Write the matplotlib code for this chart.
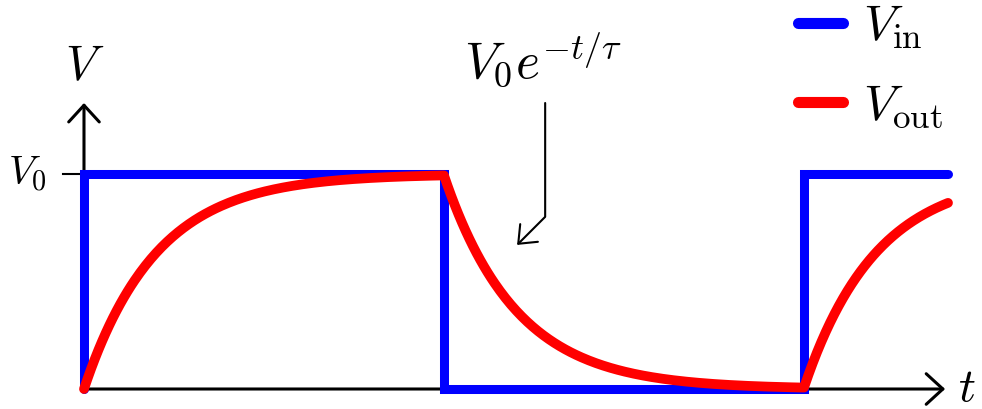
import numpy as np
import matplotlib
matplotlib.use('Agg')
from matplotlib import pyplot as plt
from matplotlib.patches import FancyArrowPatch

plt.rcParams['mathtext.fontset'] = 'cm'
plt.rcParams['font.family'] = 'DejaVu Serif'

# square wave input: switching times and levels
t_in = [0, 0, 1, 1, 2, 2, 2.4]
v_in = [0, 1, 1, 0, 0, 1, 1]

V0 = 1.0
tau = 0.2
t_switch = [0, 1, 2, 2.4]   # segment boundaries
level = [1, 0, 1]           # input level on each segment

# RC output, charging / discharging towards the input level
t_out, v_out = [], []
v_start = 0.0
for k in range(len(level)):
    ts = np.linspace(t_switch[k], t_switch[k+1], 200)
    target = level[k] * V0
    vs = target + (v_start - target) * np.exp(-(ts - t_switch[k]) / tau)
    t_out.append(ts)
    v_out.append(vs)
    v_start = vs[-1]
t_out = np.concatenate(t_out)
v_out = np.concatenate(v_out)

fig = plt.figure(figsize=(9.82, 4.09), dpi=100)
ax = fig.add_axes([0, 0, 1, 1])
ax.set_xlim(-0.2333, 2.4944)
ax.set_ylim(-0.093, 1.809)
ax.axis('off')

# axes with arrows
for start, end in [((0, 0), (2.392, 0)), ((0, 0), (0, 1.33))]:
    ax.add_patch(FancyArrowPatch(start, end, arrowstyle='->,head_length=0.6,head_width=0.55',
                                 mutation_scale=20, lw=2.2, color='black',
                                 shrinkA=0, shrinkB=0, zorder=1))
ax.plot([-0.058, 0], [1, 1], color='black', lw=1.5, zorder=1)
ax.text(-0.103, 1.0, r'$V_0$', fontsize=29, ha='right', va='center')
ax.text(0.003, 1.50, r'$V$', fontsize=35, ha='center', va='center')
ax.text(2.452, 0.005, r'$t$', fontsize=34, ha='center', va='center')

ax.plot(t_in, v_in, color='blue', lw=6.5, solid_joinstyle='miter',
        solid_capstyle='round', label=r'$V_\mathrm{in}$', zorder=2)
ax.plot(t_out, v_out, color='red', lw=7, solid_capstyle='round',
        label=r'$V_\mathrm{out}$', zorder=3)

ax.text(1.275, 1.53, r'$V_0e^{-t/\tau}$', fontsize=37, ha='center', va='center')
ax.annotate('', xy=(1.203, 0.670), xytext=(1.281, 1.330),
            arrowprops=dict(arrowstyle='->,head_length=0.55,head_width=0.45',
                            connectionstyle='angle,angleA=90,angleB=45,rad=0',
                            lw=1.5, color='black', shrinkA=0, shrinkB=0,
                            mutation_scale=20))

leg = ax.legend(loc='upper left', bbox_to_anchor=(798/982, 1 - 2/409),
                frameon=False, fontsize=36, handlelength=0.9,
                handletextpad=0.4, labelspacing=0.6, borderpad=0,
                borderaxespad=0)
for line in leg.get_lines():
    line.set_linewidth(8)

fig.savefig('out.png', dpi=100)
